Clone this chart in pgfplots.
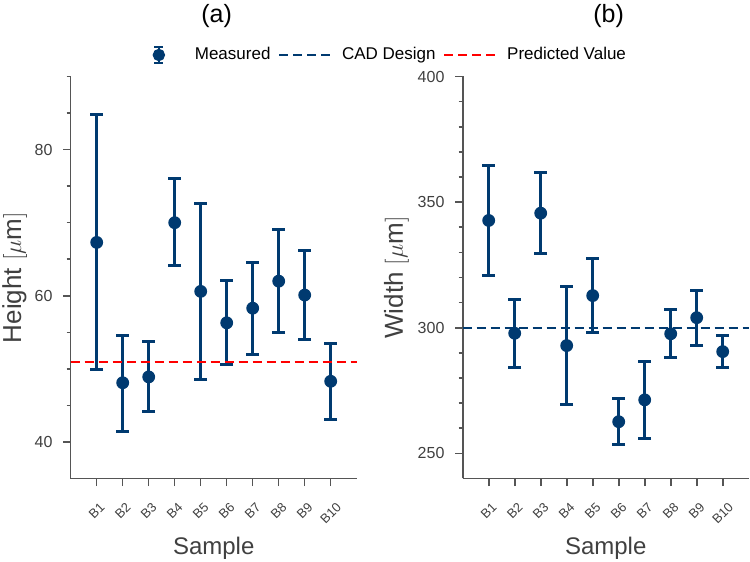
\documentclass[border=0pt]{standalone}
\usepackage{pgfplots}
\pgfplotsset{compat=1.18}
\usepackage{pgfplotstable}
\usepackage{fontspec}
\setmainfont{Liberation Sans}
\definecolor{navy}{HTML}{003A70}
\definecolor{axgray}{HTML}{555555}
\definecolor{txtgray}{HTML}{404040}
\definecolor{predred}{HTML}{FF0000}

\pgfplotstableread{
x y ep em
1 67.3 17.5 17.4
2 48.1 6.5 6.7
3 48.9 4.9 4.8
4 70.0 6.0 5.9
5 60.6 12.0 12.1
6 56.3 5.8 5.7
7 58.3 6.3 6.3
8 62.0 7.0 7.0
9 60.1 6.1 6.1
10 48.3 5.2 5.2
}\heightdata

\pgfplotstableread{
x y ep em
1 342.7 21.9 21.9
2 297.8 13.6 13.5
3 345.6 16.3 16.2
4 292.9 23.4 23.3
5 312.8 14.8 14.8
6 262.6 9.2 9.2
7 271.3 15.3 15.2
8 297.6 9.8 9.5
9 304.0 10.7 10.9
10 290.5 6.6 6.5
}\widthdata

\pgfplotstableread{
x y
0 51
11 51
}\predline

\pgfplotstableread{
x y
0 300
11 300
}\cadline

\pgfplotsset{
  myax/.style={
    scale only axis, width=143pt, height=201pt,
    axis lines=left,
    axis line style={-, axgray, line width=0.8pt},
    xmin=0, xmax=11,
    xtick={1,2,3,4,5,6,7,8,9,10},
    xticklabels={\rotatebox{45}{B1},\rotatebox{45}{B2},\rotatebox{45}{B3},\rotatebox{45}{B4},\rotatebox{45}{B5},\rotatebox{45}{B6},\rotatebox{45}{B7},\rotatebox{45}{B8},\rotatebox{45}{B9},\rotatebox{45}{B10}},
    x tick label style={anchor=north, inner sep=0pt, yshift=-7.7pt, font=\fontsize{6.5}{7}\selectfont, text=txtgray},
    y tick label style={xshift=-1.8pt, font=\fontsize{8}{9}\selectfont, text=txtgray},
    /pgf/number format/assume math mode=true,
    tick align=outside,
    major tick length=3.8pt, minor tick length=2pt,
    tick style={axgray, line width=0.8pt},
    xtick pos=bottom, ytick pos=left,
    xlabel style={font=\fontsize{12}{14}\selectfont, text=txtgray, at={(0.5,-0.1729)}, anchor=center},
    ylabel style={font=\fontsize{13}{15}\selectfont, text=txtgray, anchor=center},
    title style={font=\fontsize{12.5}{15}\selectfont, anchor=center, at={(0.51,1.1206)}},
    xlabel={Sample},
    clip=false,
  },
  measleg/.style={
    legend image code/.code={
      \path[draw=none, fill=none] (0pt,-5pt) rectangle (26pt,5pt);
      \draw[navy, line width=1.3pt] (13pt,-4pt) -- (13pt,4pt);
      \draw[navy, line width=1.3pt] (10.7pt,-4pt) -- (15.3pt,-4pt);
      \draw[navy, line width=1.3pt] (10.7pt,4pt) -- (15.3pt,4pt);
      \fill[navy] (13pt,0pt) circle (2.8pt);
    }
  },
  meas/.style={
    navy, only marks, mark=*, mark size=2.9pt, line width=0.6pt,
    measleg,
    error bars/.cd, y dir=both, y explicit,
    error bar style={navy, line width=1.5pt},
    error mark options={rotate=90, navy, mark size=3.2pt, line width=1.5pt},
  },
  cadleg/.style={
    legend image code/.code={
      \draw[navy, line width=1pt, dash pattern=on 4.5pt off 2.5pt] (0pt,0pt) -- (26pt,0pt);
    }
  },
  predleg/.style={
    legend image code/.code={
      \draw[predred, line width=1pt, dash pattern=on 4.5pt off 2.5pt] (0pt,0pt) -- (26pt,0pt);
    }
  },
}

\begin{document}
\begin{tikzpicture}
\begin{axis}[myax,
  ymin=35, ymax=90,
  ytick={40,60,80}, minor ytick={45,50,55,65,70,75,85,90},
  ylabel={Height $[\mu\mathrm{m}]$},
  ylabel style={at={(-0.196,0.5)}},
  title={(a)},
  legend columns=-1,
  legend style={at={(0.216,1.0535)}, anchor=west, draw=none, fill=none,
    inner sep=0pt, nodes={inner sep=0pt},
    font=\fontsize{8.5}{10}\selectfont, text=black,
    /tikz/every odd column/.append style={column sep=5pt},
    /tikz/every even column/.append style={column sep=3.8pt}},
]
\addplot[meas]
  table[x=x, y=y, y error plus=ep, y error minus=em] {\heightdata};
\addlegendentry{Measured}
\addlegendimage{cadleg}
\addlegendentry{CAD Design}
\addplot[predred, line width=1pt, dash pattern=on 4.5pt off 2.5pt, predleg]
  table[x=x, y=y] {\predline};
\addlegendentry{Predicted Value}
\end{axis}

\begin{axis}[myax, at={(196pt,0pt)},
  ymin=240, ymax=400,
  ytick={250,300,350,400},
  minor ytick={260,270,280,290,310,320,330,340,360,370,380,390},
  ylabel={Width $[\mu\mathrm{m}]$},
  ylabel style={at={(-0.232,0.5)}},
  title={(b)},
]
\addplot[meas]
  table[x=x, y=y, y error plus=ep, y error minus=em] {\widthdata};
\addplot[navy, line width=1pt, dash pattern=on 4.5pt off 2.5pt]
  table[x=x, y=y] {\cadline};
\end{axis}
\pgfresetboundingbox
\path[use as bounding box] (-35.35pt,-41.75pt) rectangle (339.65pt,239.25pt);
\end{tikzpicture}
\end{document}
